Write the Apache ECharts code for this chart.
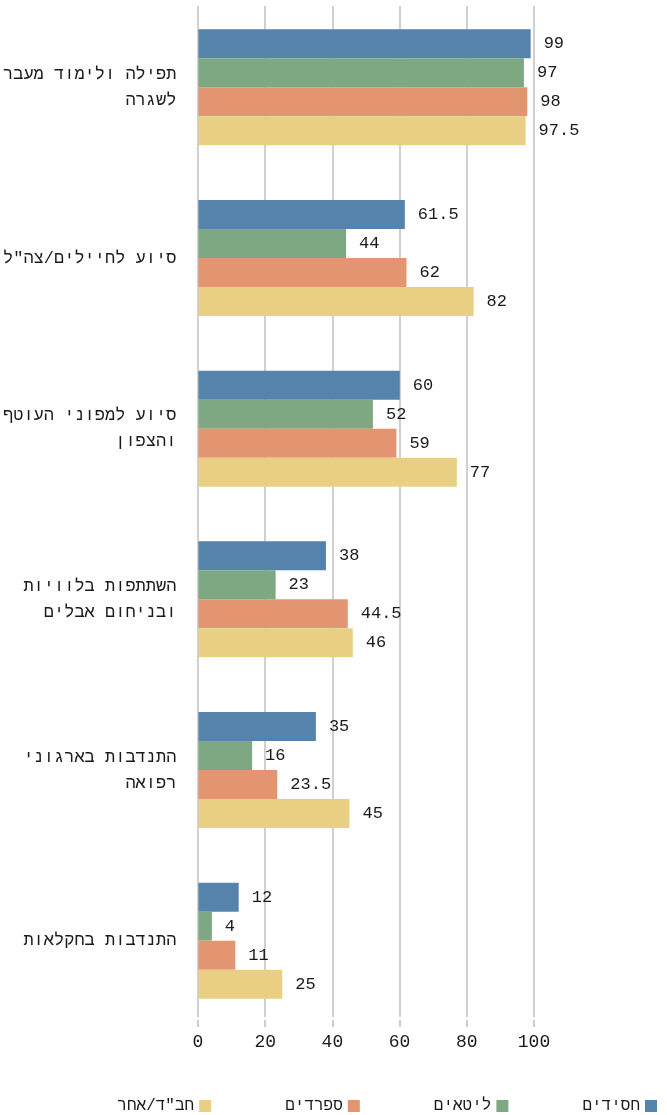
<!DOCTYPE html>
<html>
<head>
<meta charset="utf-8">
<script src="https://cdn.jsdelivr.net/npm/echarts@6/dist/echarts.min.js"></script>
<style>
html,body{margin:0;padding:0;background:#fff;}
#chart{width:667px;height:1115px;}
</style>
</head>
<body>
<div id="chart"></div>
<script>
var categories = [
  'תפילה ולימוד מעבר\nלשגרה',
  'סיוע לחיילים/צה"ל',
  'סיוע למפוני העוטף\nוהצפון',
  'השתתפות בלוויות\nובניחום אבלים',
  'התנדבות בארגוני\nרפואה',
  'התנדבות בחקלאות'
];
var seriesNames = ['חסידים', 'ליטאים', 'ספרדים', 'חב"ד/אחר'];
var hasidim = [99, 61.5, 60, 38, 35, 12];
var litaim = [97, 44, 52, 23, 16, 4];
var sfaradim = [98, 62, 59, 44.5, 23.5, 11];
var chabad = [97.5, 82, 77, 46, 45, 25];
var xTicks = [0, 20, 40, 60, 80, 100];

var colors = ['#5683ac', '#7ea882', '#e39471', '#e8cf84'];
var FONT = '"Liberation Mono", monospace';
var values = [hasidim, litaim, sfaradim, chabad];

var chart = echarts.init(document.getElementById('chart'), null, {renderer: 'canvas'});
var series = seriesNames.map(function (name, i) {
  return {
    name: name,
    type: 'bar',
    xAxisIndex: 0,
    yAxisIndex: 0,
    data: values[i],
    barWidth: 29,
    barGap: '0%',
    itemStyle: {color: colors[i]},
    label: {
      show: true,
      position: 'right',
      distance: 13,
      color: '#1a1a1a',
      fontFamily: FONT,
      fontSize: 17
    },
    z: 3
  };
});

chart.setOption({
  animation: false,
  grid: [
    {left: 198, right: 133, top: 2, bottom: 89},
    {left: 198, right: 133, top: 6, bottom: 98}
  ],
  xAxis: [
    {
      type: 'value', gridIndex: 0,
      min: xTicks[0], max: xTicks[xTicks.length - 1], interval: 20,
      show: false
    },
    {
      type: 'value', gridIndex: 1,
      min: xTicks[0], max: xTicks[xTicks.length - 1], interval: 20,
      offset: 3,
      axisLine: {show: false},
      axisTick: {show: true, length: 7, lineStyle: {color: '#ccc', width: 2}},
      splitLine: {show: true, lineStyle: {color: '#d0d0d0', width: 2}},
      axisLabel: {color: '#1a1a1a', fontFamily: FONT, fontSize: 18, margin: 13},
      z: 1
    }
  ],
  yAxis: [
    {
      type: 'category', gridIndex: 0,
      inverse: true,
      data: categories,
      axisLine: {show: false},
      axisTick: {show: false},
      axisLabel: {color: '#1a1a1a', fontFamily: FONT, fontSize: 17, lineHeight: 26, margin: 22, align: 'right'}
    },
    {
      type: 'category', gridIndex: 1, show: false, data: categories
    }
  ],
  legend: {
    data: seriesNames.slice().reverse(),
    right: 5,
    bottom: -4,
    align: 'right',
    icon: 'rect',
    itemWidth: 12,
    itemHeight: 12,
    itemGap: 74,
    textStyle: {color: '#1a1a1a', fontFamily: FONT, fontSize: 16}
  },
  series: series
});
</script>
</body>
</html>
